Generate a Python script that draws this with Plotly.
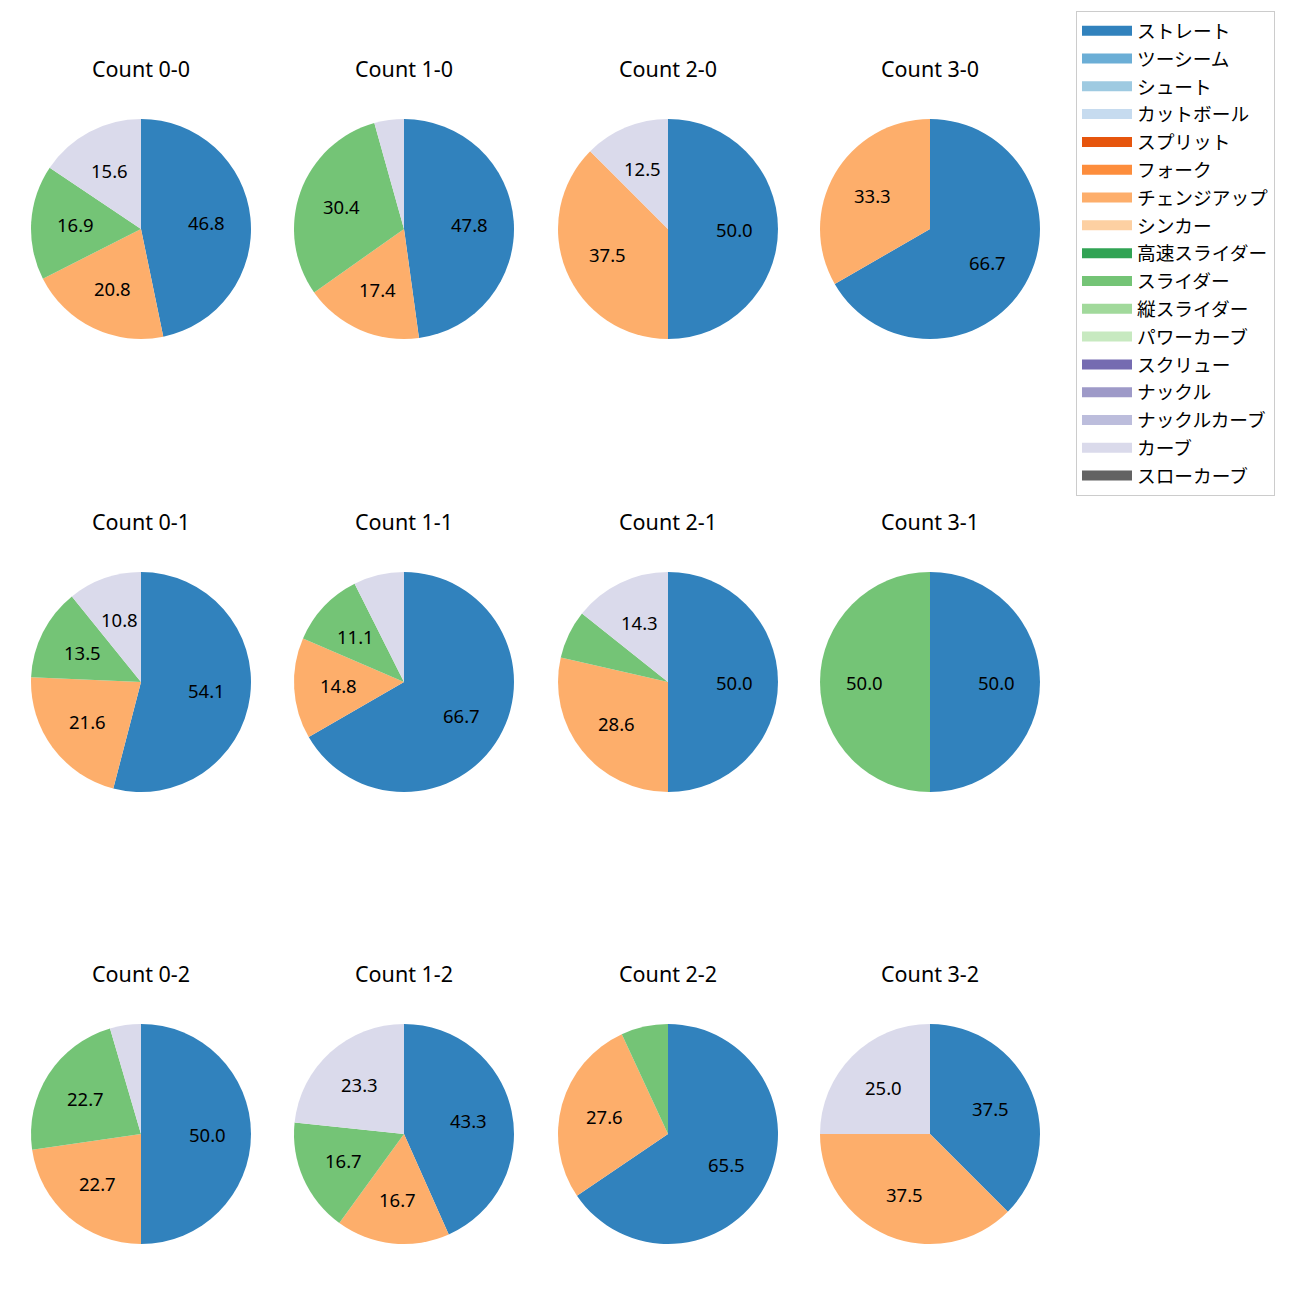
import math
import plotly.graph_objects as go

pitch_types = ["ストレート", "ツーシーム", "シュート", "カットボール", "スプリット", "フォーク",
               "チェンジアップ", "シンカー", "高速スライダー", "スライダー", "縦スライダー",
               "パワーカーブ", "スクリュー", "ナックル", "ナックルカーブ", "カーブ", "スローカーブ"]
colors = ["#3182bd", "#6baed6", "#9ecae1", "#c6dbef", "#e6550d", "#fd8d3c", "#fdae6b", "#fdd0a2",
          "#31a354", "#74c476", "#a1d99b", "#c7e9c0", "#756bb1", "#9e9ac8", "#bcbddc", "#dadaeb",
          "#636363"]
color_map = dict(zip(pitch_types, colors))

counts = ["0-0", "1-0", "2-0", "3-0",
          "0-1", "1-1", "2-1", "3-1",
          "0-2", "1-2", "2-2", "3-2"]

# pitch counts per ball-strike count (order of slices)
pie_labels = {
    "0-0": ["ストレート", "チェンジアップ", "スライダー", "カーブ"],
    "1-0": ["ストレート", "チェンジアップ", "スライダー", "カーブ"],
    "2-0": ["ストレート", "チェンジアップ", "カーブ"],
    "3-0": ["ストレート", "チェンジアップ"],
    "0-1": ["ストレート", "チェンジアップ", "スライダー", "カーブ"],
    "1-1": ["ストレート", "チェンジアップ", "スライダー", "カーブ"],
    "2-1": ["ストレート", "チェンジアップ", "スライダー", "カーブ"],
    "3-1": ["ストレート", "スライダー"],
    "0-2": ["ストレート", "チェンジアップ", "スライダー", "カーブ"],
    "1-2": ["ストレート", "チェンジアップ", "スライダー", "カーブ"],
    "2-2": ["ストレート", "チェンジアップ", "スライダー"],
    "3-2": ["ストレート", "チェンジアップ", "カーブ"],
}
pie_values = {
    "0-0": [36, 16, 13, 12],
    "1-0": [11, 4, 7, 1],
    "2-0": [4, 3, 1],
    "3-0": [2, 1],
    "0-1": [20, 8, 5, 4],
    "1-1": [18, 4, 3, 2],
    "2-1": [7, 4, 1, 2],
    "3-1": [1, 1],
    "0-2": [11, 5, 5, 1],
    "1-2": [13, 5, 5, 7],
    "2-2": [19, 8, 2],
    "3-2": [3, 3, 2],
}

W = H = 1300
OFF = 8  # page body margin
col_cx = [141, 404, 668, 930]
row_cy = [229, 682, 1134]
title_dy = 161
R = 110
FONT = "Noto Sans, Noto Sans CJK JP, sans-serif"


def px(x):
    return (x - OFF) / W


def py(y):
    return 1 - (y - OFF) / H


fig = go.Figure()
annotations = []
for i, c in enumerate(counts):
    r, k = divmod(i, 4)
    cx, cy = col_cx[k], row_cy[r]
    vals = pie_values[c]
    labs = pie_labels[c]
    tot = sum(vals)
    fig.add_trace(go.Pie(
        labels=labs, values=vals, textinfo="none",
        marker=dict(colors=[color_map[l] for l in labs], line=dict(width=0)),
        sort=False, direction="clockwise", rotation=0, showlegend=False,
        hoverinfo="label+percent",
        domain=dict(x=[px(cx - R), px(cx + R)], y=[py(cy + R), py(cy - R)]),
    ))
    # percentage labels at 0.6 radius along slice bisector
    cum = 0.0
    for v in vals:
        frac = v / tot
        mid = (cum + frac / 2) * 2 * math.pi
        cum += frac
        if frac * 100 >= 10:
            tx = cx + 0.6 * R * math.sin(mid)
            ty = cy - 0.6 * R * math.cos(mid)
            annotations.append(dict(text=f"{frac * 100:.1f}", x=px(tx), y=py(ty),
                                    xref="paper", yref="paper", showarrow=False,
                                    xanchor="center", yanchor="middle",
                                    font=dict(size=18.5, color="black", family=FONT)))
    annotations.append(dict(text=f"Count {c}", x=px(cx), y=py(cy - title_dy),
                            xref="paper", yref="paper", showarrow=False,
                            xanchor="center", yanchor="middle",
                            font=dict(size=21.5, color="black", family=FONT)))

# legend entries (all pitch types)
for p in pitch_types:
    fig.add_trace(go.Scatter(x=[None], y=[None], mode="lines", name=p, legendgroup=p,
                             line=dict(color=color_map[p], width=14), showlegend=True,
                             hoverinfo="skip"))

fig.update_layout(
    width=W, height=H, margin=dict(l=0, r=0, t=0, b=0),
    paper_bgcolor="white", plot_bgcolor="white",
    annotations=annotations,
    xaxis=dict(visible=False, domain=[0.999, 1.0]),
    yaxis=dict(visible=False, domain=[0.999, 1.0]),
    legend=dict(x=px(1076), y=py(11), xanchor="left", yanchor="top",
                bordercolor="#cccccc", borderwidth=1, bgcolor="white",
                font=dict(size=18.7, color="black", family=FONT),
                tracegroupgap=0.5, itemwidth=50),
)
fig.write_html("out.html")
